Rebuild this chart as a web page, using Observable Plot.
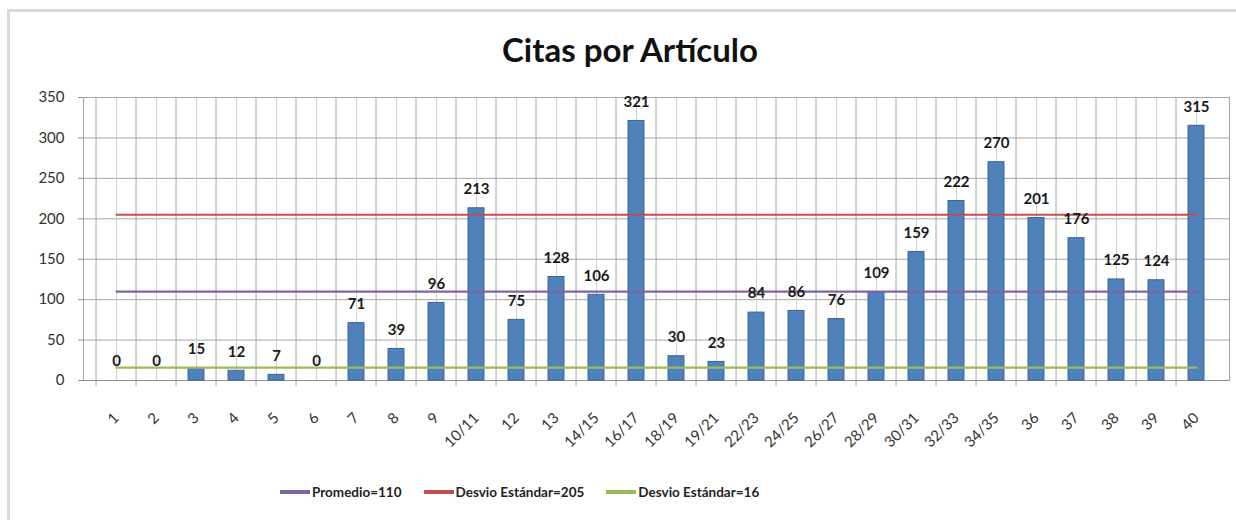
<!DOCTYPE html>
<html>
<head>
<meta charset="utf-8">
<script src="https://cdn.jsdelivr.net/npm/d3@7"></script>
<script src="https://cdn.jsdelivr.net/npm/@observablehq/plot@0.6"></script>
<style>
  html, body { margin: 0; padding: 0; background: #fff; }
  body { width: 1236px; height: 520px; position: relative; overflow: hidden; font-family: Lato, "Open Sans", sans-serif; }
  #frame { position: absolute; left: 7px; top: 9px; width: 1300px; height: 600px; border-left: 3px solid #d9d9d9; border-top: 3px solid #d9d9d9; }
  #title { position: absolute; left: 0; top: 29px; width: 1236px; text-align: center; font-size: 33px; font-weight: bold; color: #111; padding-left: 24px; box-sizing: border-box; }
  #chart { position: absolute; left: 0; top: 80px; }
  #legend { position: absolute; left: 280px; top: 484px; display: flex; align-items: center; font-size: 13.5px; font-weight: bold; color: #222; }
  .item { display: flex; align-items: center; margin-right: 22px; }
  .sw { width: 30px; height: 4px; margin-right: 2px; }
</style>
</head>
<body>
<div id="frame"></div>
<div id="title">Citas por Artículo</div>
<div id="chart"></div>
<div id="legend"></div>
<script>
const categories = ["1","2","3","4","5","6","7","8","9","10/11","12","13","14/15","16/17","18/19","19/21","22/23","24/25","26/27","28/29","30/31","32/33","34/35","36","37","38","39","40"];
const citas = [0,0,15,12,7,0,71,39,96,213,75,128,106,321,30,23,84,86,76,109,159,222,270,201,176,125,124,315];
const statNames = ["Promedio=110", "Desvio Estándar=205", "Desvio Estándar=16"];
const statValues = [110, 205, 16];
const statColors = ["#8064a2", "#c0504d", "#9bbb59"];
const yTicks = [0, 50, 100, 150, 200, 250, 300, 350];

const width = 1236, marginLeft = 83, marginRight = 7;
const bw = (width - marginLeft - marginRight) / categories.length;

const bars = categories.map((c, i) => ({cat: c, v: citas[i]}));
const statLines = statValues.flatMap((v, k) => categories.map(c => ({cat: c, v, name: statNames[k]})));

const plot = Plot.plot({
  width, height: 385,
  marginLeft, marginRight, marginTop: 17, marginBottom: 85,
  style: {fontFamily: "Lato, 'Open Sans', sans-serif", background: "transparent"},
  x: {type: "band", domain: categories, padding: 0, label: null},
  y: {domain: [0, 350], label: null},
  color: {domain: statNames, range: statColors},
  marks: [
    Plot.gridY(yTicks, {stroke: "#a6a6a6", strokeOpacity: 1, strokeWidth: 1}),
    Plot.gridX(categories, {stroke: "#d0d0d0", strokeOpacity: 1, strokeWidth: 1}),
    Plot.ruleX(categories, {x: d => d, dx: -bw / 2, stroke: "#a6a6a6", strokeWidth: 1, insetBottom: -6}),
    Plot.frame({stroke: "#a6a6a6"}),
    Plot.ruleY([0], {stroke: "#8c8c8c"}),
    Plot.barY(bars, {x: "cat", y: "v", fill: "#4f81bd", stroke: "#3b6596", strokeWidth: 1, insetLeft: 12, insetRight: 12}),
    Plot.line(statLines, {x: "cat", y: "v", z: "name", stroke: "name", strokeWidth: 2.2}),
    Plot.text(bars, {x: "cat", y: "v", text: d => String(d.v), dy: -19, fontSize: 15, fontWeight: "bold", fill: "#1a1a1a"}),
    Plot.axisY(yTicks, {label: null, tickSize: 5, tickPadding: 14, fontSize: 15, fill: "#333", stroke: "#8c8c8c"}),
    Plot.axisX({label: null, tickSize: 0, tickPadding: 28, dy: 7, tickRotate: -45, fontSize: 15, fill: "#333"})
  ]
});
document.getElementById("chart").appendChild(plot);

const legend = document.getElementById("legend");
statNames.forEach((n, k) => {
  const it = document.createElement("div");
  it.className = "item";
  const sw = document.createElement("span");
  sw.className = "sw";
  sw.style.background = statColors[k];
  const t = document.createElement("span");
  t.textContent = n;
  it.appendChild(sw); it.appendChild(t);
  legend.appendChild(it);
});
</script>
</body>
</html>
